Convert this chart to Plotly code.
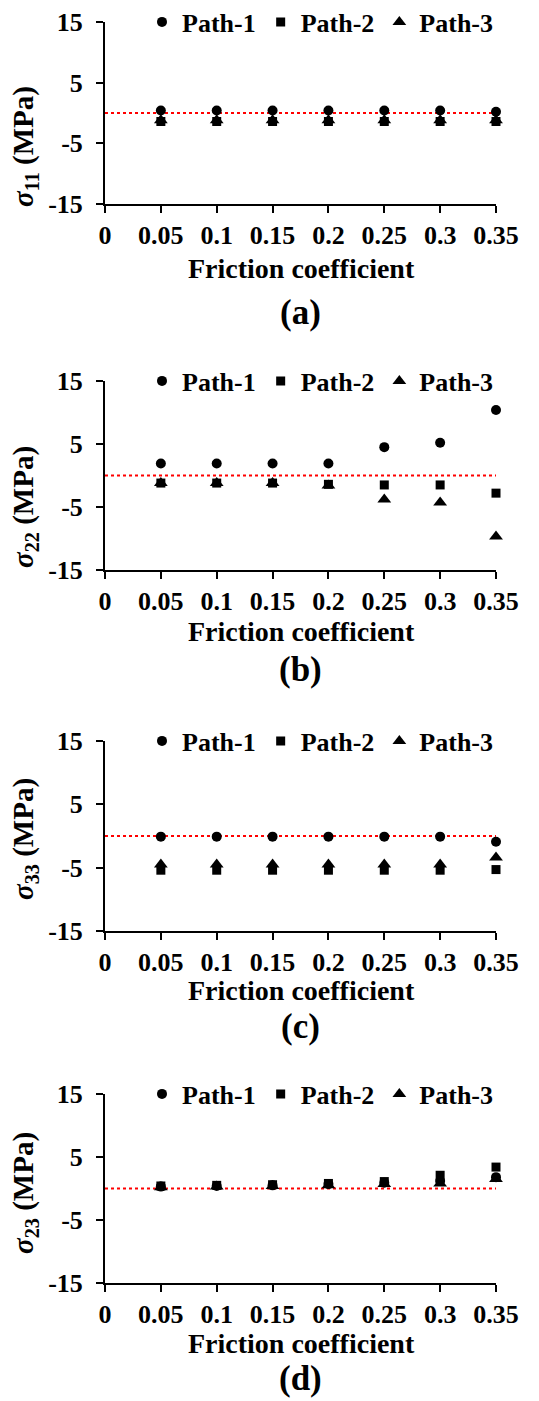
import plotly.graph_objects as go

friction = [0.05, 0.10, 0.15, 0.20, 0.25, 0.30, 0.35]

s11_path1 = [0.4, 0.4, 0.4, 0.4, 0.4, 0.4, 0.2]
s11_path2 = [-1.4, -1.4, -1.4, -1.4, -1.4, -1.4, -1.4]
s11_path3 = [-1.2, -1.2, -1.2, -1.2, -1.2, -1.2, -1.2]

s22_path1 = [1.9, 1.9, 1.9, 1.9, 4.5, 5.2, 10.4]
s22_path2 = [-1.2, -1.2, -1.2, -1.4, -1.5, -1.5, -2.8]
s22_path3 = [-1.2, -1.2, -1.2, -1.6, -3.8, -4.3, -9.7]

s33_path1 = [-0.1, -0.1, -0.1, -0.1, -0.1, -0.1, -0.9]
s33_path2 = [-5.4, -5.4, -5.4, -5.4, -5.4, -5.4, -5.3]
s33_path3 = [-4.5, -4.5, -4.5, -4.5, -4.5, -4.5, -3.4]

s23_path1 = [0.3, 0.4, 0.5, 0.7, 0.9, 1.2, 1.8]
s23_path2 = [0.4, 0.5, 0.6, 0.8, 1.1, 2.1, 3.4]
s23_path3 = [0.2, 0.3, 0.4, 0.5, 0.7, 0.8, 1.5]

series_names = ["Path-1", "Path-2", "Path-3"]
symbols = ["circle", "square", "triangle-up"]
marker_sizes = [10, 9, 12]

x_tickvals = [0, 0.05, 0.1, 0.15, 0.2, 0.25, 0.3, 0.35]
x_ticktext = ["0", "0.05", "0.1", "0.15", "0.2", "0.25", "0.3", "0.35"]
y_tickvals = [-15, -5, 5, 15]
y_ticktext = ["-15", "-5", "5", "15"]

panels = [
    ("11", "(a)", [s11_path1, s11_path2, s11_path3]),
    ("22", "(b)", [s22_path1, s22_path2, s22_path3]),
    ("33", "(c)", [s33_path1, s33_path2, s33_path3]),
    ("23", "(d)", [s23_path1, s23_path2, s23_path3]),
]

W, H = 539, 1401
FONT = '"Liberation Serif", "Times New Roman", Times, serif'

# pixel layout of each panel: (plot top, plot bottom, x-title center, caption center, y-title center)
pix = [
    (22, 204, 269, 312, 147),
    (381, 570, 631, 669, 507),
    (741, 931, 990, 1026, 839),
    (1094, 1283, 1343, 1378, 1193),
]
x_left, x_right = 105, 496


def py(p):
    return 1 - p / H


def bold(lst):
    return ["<b>" + t + "</b>" for t in lst]


fig = go.Figure()
annotations = []
for i, (sub, cap, data) in enumerate(panels):
    n = i + 1
    xa = "x" if n == 1 else f"x{n}"
    ya = "y" if n == 1 else f"y{n}"
    leg = "legend" if n == 1 else f"legend{n}"
    top, bot, xtc, capc, ytc = pix[i]

    # zero reference line
    fig.add_trace(go.Scatter(x=[0, 0.35], y=[0, 0], mode="lines",
                             line=dict(color="#ff0000", width=2, dash="dot"),
                             showlegend=False, hoverinfo="skip",
                             xaxis=xa, yaxis=ya))
    for name, sym, ms, vals in zip(series_names, symbols, marker_sizes, data):
        fig.add_trace(go.Scatter(x=friction, y=vals, mode="markers", name=name,
                                 marker=dict(symbol=sym, size=ms, color="black"),
                                 cliponaxis=False, legend=leg,
                                 xaxis=xa, yaxis=ya))

    xkey = "xaxis" if n == 1 else f"xaxis{n}"
    ykey = "yaxis" if n == 1 else f"yaxis{n}"
    fig.update_layout(**{
        xkey: dict(domain=[x_left / W, x_right / W], anchor=ya, range=[0, 0.35],
                   tickmode="array", tickvals=x_tickvals, ticktext=bold(x_ticktext),
                   ticks="outside", ticklen=7, tickwidth=2, tickcolor="black",
                   showline=True, linecolor="black", linewidth=2, showgrid=False,
                   zeroline=False, automargin=False,
                   tickfont=dict(family=FONT, size=26, color="black")),
        ykey: dict(domain=[py(bot), py(top)], anchor=xa, range=[-15, 15],
                   tickmode="array", tickvals=y_tickvals, ticktext=bold(y_ticktext),
                   ticks="outside", ticklen=7, tickwidth=2, tickcolor="black",
                   showline=True, linecolor="black", linewidth=2, showgrid=False,
                   zeroline=False, automargin=False, ticklabelstandoff=8,
                   tickfont=dict(family=FONT, size=26, color="black")),
        leg: dict(orientation="h", x=142 / W, xanchor="left", y=py(top), yanchor="middle",
                  bgcolor="rgba(0,0,0,0)", itemwidth=30,
                  font=dict(family=FONT, size=26, color="black", weight="bold")),
    })

    annotations.append(dict(x=301 / W, y=py(xtc), xref="paper", yref="paper",
                            text="<b>Friction coefficient</b>", showarrow=False,
                            xanchor="center", yanchor="middle",
                            font=dict(family=FONT, size=28, color="black")))
    annotations.append(dict(x=300 / W, y=py(capc), xref="paper", yref="paper",
                            text="<b>" + cap + "</b>", showarrow=False,
                            xanchor="center", yanchor="middle",
                            font=dict(family=FONT, size=35, color="black")))
    annotations.append(dict(x=25 / W, y=py(ytc), xref="paper", yref="paper",
                            text="<b><i>σ</i><sub>" + sub + "</sub> (MPa)</b>",
                            showarrow=False, textangle=-90,
                            xanchor="center", yanchor="middle",
                            font=dict(family=FONT, size=29, color="black")))

fig.update_layout(width=W, height=H, margin=dict(l=0, r=0, t=0, b=0, autoexpand=False),
                  font=dict(family=FONT, color="black"),
                  plot_bgcolor="white", paper_bgcolor="white",
                  annotations=annotations)

fig.write_html("out.html", config={"displayModeBar": False},
               post_script="document.body.style.margin='0';")
